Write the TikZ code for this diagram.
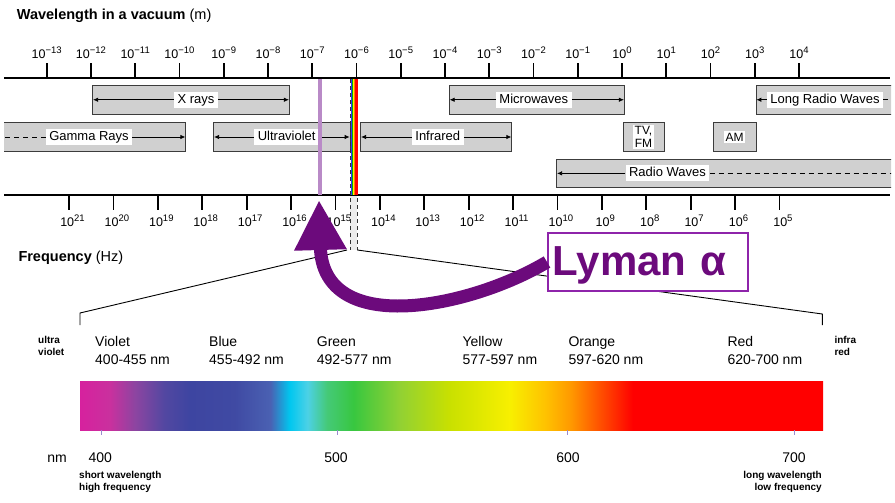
\documentclass[tikz,border=0pt]{standalone}
\usepackage{fontspec}
\setmainfont{Liberation Sans}
\usetikzlibrary{arrows.meta,positioning,fit}

\definecolor{bandgray}{HTML}{D0D0D0}
\definecolor{bandedge}{HTML}{3C3C3C}
\definecolor{lypurple}{HTML}{6C0A7C}
\definecolor{lyedge}{HTML}{8E24AA}
\definecolor{lyline}{HTML}{B98AC7}
\definecolor{nmtick}{HTML}{9A8AD0}

\newcommand\supx[1]{\raisebox{5pt}{\fontsize{9.5}{10}\selectfont #1}}

\pgfdeclarehorizontalshading{visspec}{100bp}{rgb(0bp)=(0.84,0.13,0.62); rgb(25bp)=(0.84,0.13,0.62); rgb(27bp)=(0.79,0.19,0.62); rgb(28.7bp)=(0.55,0.27,0.63); rgb(30.7bp)=(0.32,0.28,0.63); rgb(32.4bp)=(0.24,0.27,0.63); rgb(35.4bp)=(0.25,0.29,0.64); rgb(37.8bp)=(0.29,0.38,0.70); rgb(39.1bp)=(0.00,0.78,0.94); rgb(40.3bp)=(0.30,0.82,0.90); rgb(41.6bp)=(0.27,0.79,0.47); rgb(43.4bp)=(0.22,0.78,0.25); rgb(46.5bp)=(0.57,0.82,0.20); rgb(49.9bp)=(0.79,0.88,0.00); rgb(53.9bp)=(0.97,0.94,0.00); rgb(56.3bp)=(1.00,0.76,0.00); rgb(58bp)=(1.00,0.60,0.00); rgb(60bp)=(1.00,0.31,0.00); rgb(62.2bp)=(1.00,0.00,0.00); rgb(75bp)=(1.00,0.00,0.00); rgb(100bp)=(1.00,0.00,0.00)}

\begin{document}
\begin{tikzpicture}[x=1pt,y=-1pt,
  band/.style={draw=bandedge, fill=bandgray, line width=0.9pt, inner sep=0pt},
  bandlabel/.style={fill=white, inner xsep=3.5pt, inner ysep=1.8pt, text height=9.5pt, text depth=2.8pt, font=\fontsize{13}{15}\selectfont},
  smalllabel/.style={fill=white, inner sep=1.8pt, align=center, font=\fontsize{12}{13}\selectfont},
  barr/.style={-{Latex[length=5pt,width=4.5pt]}, line width=0.8pt, shorten >=0.8pt},
  bdash/.style={line width=0.8pt, dash pattern=on 5pt off 4pt},
  axisline/.style={line width=2pt},
  axtick/.style={line width=1.8pt},
  explabel/.style={anchor=base, inner sep=0pt, font=\fontsize{12.5}{14}\selectfont},
  axtitle/.style={anchor=base west, inner sep=0pt, font=\fontsize{14.5}{16}\selectfont},
  colorlabel/.style={anchor=base west, align=left, inner sep=0pt, font=\fontsize{14}{17.3}\selectfont},
  smallbold/.style={align=left, inner sep=0pt, font=\bfseries\fontsize{10}{12}\selectfont},
  nmlabel/.style={anchor=base, inner sep=0pt, font=\fontsize{14}{16}\selectfont},
  fanline/.style={line width=0.9pt},
  visdash/.style={line width=1pt, draw=black!80, dash pattern=on 4pt off 3pt},
  lybox/.style={draw=lyedge, line width=1.5pt, fill=white, text=lypurple, font=\bfseries\fontsize{42}{44}\selectfont, text width=190pt, align=left, inner xsep=5pt, minimum height=58pt, text height=30pt, text depth=3pt},
  lyarrow/.style={draw=lypurple, line width=13pt, -{Triangle[length=50pt,width=49pt]}}
]
\useasboundingbox (0,0) rectangle (895,503);
\clip (4,0) rectangle (891,503);

% wavelength axis
\node[axtitle] (wltitle) at (16.7,20) {\textbf{Wavelength in a vacuum} (m)};
\draw[axisline] (4,78) -- (890,78);
\foreach \e [count=\i from 0] in {−13,−12,−11,−10,−9,−8,−7,−6,−5,−4,−3,−2,−1,0,1,2,3,4} {
  \draw[axtick] (46.7+44.25*\i,63.3) -- (46.7+44.25*\i,78);
  \node[explabel] (wl\i) at (46.7+44.25*\i,58.3) {10\supx{\e}};
}

% frequency axis
\draw[axisline] (4,195) -- (890,195);
\foreach \e [count=\i from 0] in {21,20,...,5} {
  \draw[axtick] (69+44.4*\i,195) -- (69+44.4*\i,210);
  \node[explabel, xshift=3.5pt] (fq\i) at (69+44.4*\i,226) {10\supx{\e}};
}
\node[axtitle] (fqtitle) at (18.3,261.5) {\textbf{Frequency} (Hz)};

% bands, row 1
\node[band, fit={(92.7,85) (289.3,114.5)}] (xray) {};
\node[bandlabel] (xraylab) at (196,0 |- xray) {X rays};
\draw[barr] (xraylab) -- (xray.west);
\draw[barr] (xraylab) -- (xray.east);

\node[band, fit={(449.3,85) (624.3,114.5)}] (micro) {};
\node[bandlabel] (microlab) at (533.8,0 |- micro) {Microwaves};
\draw[barr] (microlab) -- (micro.west);
\draw[barr] (microlab) -- (micro.east);

\node[band, fit={(756,85) (905,114.5)}] (longradio) {};
\node[bandlabel] (longradiolab) at (825,0 |- longradio) {Long Radio Waves};
\draw[barr] (longradiolab) -- (longradio.west);
\draw[bdash] (longradiolab.east) -- (longradio.east);

% bands, row 2
\node[band, fit={(-10,122.3) (185.7,151.7)}] (gamma) {};
\node[bandlabel] (gammalab) at (89,0 |- gamma) {Gamma Rays};
\draw[bdash] (gammalab.west) -- (gamma.west);
\draw[barr] (gammalab) -- (gamma.east);

\node[band, fit={(213.7,122.3) (350,151.7)}] (uv) {};
\node[bandlabel] (uvlab) at (286.7,0 |- uv) {Ultraviolet};
\draw[barr] (uvlab) -- (uv.west);
\draw[barr] (uvlab) -- (uv.east);

\node[band, fit={(360.7,122.3) (511.7,151.7)}] (ir) {};
\node[bandlabel] (irlab) at (437.8,0 |- ir) {Infrared};
\draw[barr] (irlab) -- (ir.west);
\draw[barr] (irlab) -- (ir.east);

\node[band, fit={(623,122.3) (664,151.7)}] (tvfm) {};
\node[smalllabel] (tvfmlab) at (tvfm) {TV,\\FM};
\node[band, fit={(713.3,122.3) (756,151.7)}] (am) {};
\node[smalllabel] (amlab) at (am) {AM};

% bands, row 3
\node[band, fit={(556.7,159) (905,187.7)}] (radio) {};
\node[bandlabel] (radiolab) at (667.5,0 |- radio) {Radio Waves};
\draw[barr] (radiolab) -- (radio.west);
\draw[bdash] (radiolab.east) -- (radio.east);

% Lyman alpha line and visible window
\draw[lyline, line width=4pt] (320.3,79) -- (320.3,195);
\fill[gray!15] (350,196) rectangle (357.3,250);
\draw[visdash] (350,79) -- (350,250);
\draw[visdash] (357.3,79) -- (357.3,250);
\foreach \c/\a/\b in {blue!80/350.6/352.1, green!70!black/352.1/353.3, yellow/353.3/354.2, orange/354.2/355.1, red/355.1/357.5}
  \fill[\c] (\a,79) rectangle (\b,195);

% zoom onto the visible spectrum
\coordinate (visL) at (347,250);
\coordinate (visR) at (357.3,250);
\coordinate (specL) at (80,313);
\coordinate (specR) at (822.3,314);
\draw[fanline] (visL) -- (specL) -- ++(0,12);
\draw[fanline] (visR) -- (specR) -- ++(0,11);

\node[smallbold, anchor=base west] (uvnote) at (38,355) {ultra\\violet};
\node[smallbold, anchor=base west] (irnote) at (834.3,355) {infra\\red};
\foreach \x/\cn/\rg [count=\i] in {95/Violet/400-455 nm, 209/Blue/455-492 nm, 316.7/Green/492-577 nm, 462.3/Yellow/577-597 nm, 568.3/Orange/597-620 nm, 727.3/Red/620-700 nm}
  \node[colorlabel] (col\i) at (\x,364) {\cn\\\rg};

\node[inner sep=0pt, minimum width=743pt, minimum height=49pt, shading=visspec, anchor=north west] (spec) at (80,381) {};
\foreach \x in {101,337.3,567.7,794.3}
  \draw[nmtick, line width=0.7pt] (\x,430) -- (\x,435);

\node[nmlabel] (nmunit) at (57,462) {nm};
\foreach \x/\v in {100.3/400,336/500,568/600,794/700}
  \node[nmlabel] (nm\v) at (\x,462) {\v};
\node[smallbold, anchor=base west] (shortnote) at (79,490) {short wavelength\\high frequency};
\node[smallbold, anchor=base east, align=right] (longnote) at (822,490) {long wavelength\\low frequency};

% Lyman alpha callout
\node[lybox, anchor=west] (lyman) at (547,262) {Lyman α};
\coordinate (lytip) at (319,200);
\draw[lyarrow] (lyman.west) .. controls (470,308) and (323,338) .. (lytip);
\end{tikzpicture}
\end{document}
